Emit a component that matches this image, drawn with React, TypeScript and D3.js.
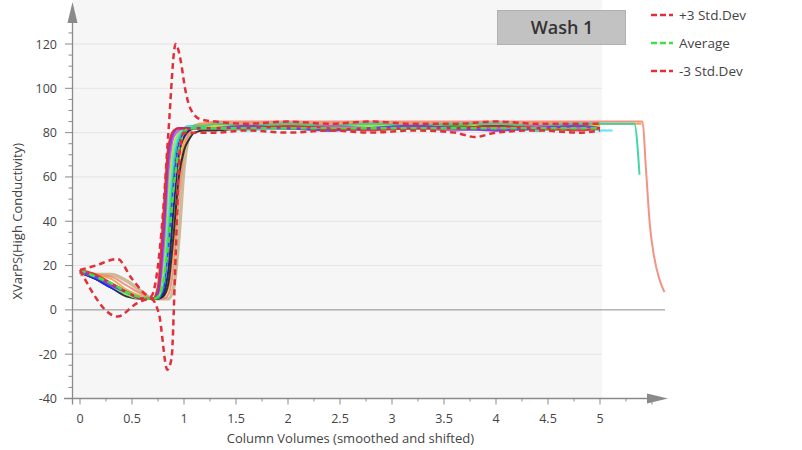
import React from "react";
import * as d3 from "d3";

// ---------- DATA ----------
const xs = [0, 0.15, 0.3, 0.45, 0.6, 0.7, 0.75, 0.8, 0.85, 0.9, 0.95, 1.0, 1.05, 1.1, 1.2, 1.3, 1.6, 2.0, 2.4, 2.8, 3.2, 3.6, 4.0, 4.4, 4.8, 5.0];

const runRed = [18, 16, 12, 8, 5, 5, 11, 42, 74, 81, 82, 82, 82, 82, 82, 82, 82, 83, 82, 81, 82, 82, 83, 82, 81, 82];
const runPurple = [17, 15, 11, 8, 5, 5, 8, 33, 70, 80, 82, 82, 82, 82, 82, 82, 83, 82, 81, 82, 83, 82, 81, 82, 83, 82];
const runMagenta = [17, 15, 12, 8, 5, 5, 7, 25, 62, 78, 81, 82, 82, 82, 82, 82, 82, 82, 83, 82, 82, 81, 82, 83, 82, 82];
const runLime = [17, 15, 11, 7, 5, 5, 6, 18, 52, 74, 80, 82, 82, 82, 82, 82, 83, 82, 82, 83, 82, 82, 81, 82, 82, 82];
const runCyan = [17, 15, 11, 7, 5, 5, 6, 14, 44, 70, 79, 82, 83, 82, 82, 82, 81, 82, 81, 82, 82, 81, 82, 81, 82, 81];
const runTeal = [17, 15, 12, 8, 5, 5, 6, 13, 40, 68, 78, 82, 83, 83, 83, 84, 83, 84, 83, 84, 83, 84, 84, 83, 84, 84];
const runGreen = [17, 15, 12, 8, 5, 5, 5, 12, 38, 66, 78, 81, 82, 82, 82, 82, 82, 82, 82, 82, 82, 83, 82, 82, 82, 82];
const runBlue = [17, 14, 10, 7, 5, 5, 5, 9, 28, 58, 75, 80, 82, 82, 82, 82, 82, 82, 83, 82, 82, 82, 82, 82, 82, 82];
const runNavy = [17, 14, 10, 7, 5, 5, 5, 7, 18, 46, 70, 78, 81, 82, 82, 82, 82, 82, 82, 82, 82, 82, 83, 82, 82, 82];
const runBlack = [17, 14, 10, 6, 5, 5, 5, 6, 12, 34, 60, 72, 77, 80, 81, 81, 82, 82, 81, 82, 82, 82, 82, 81, 82, 82];
const runYellow = [17, 15, 12, 8, 5, 5, 5, 7, 16, 42, 68, 78, 81, 82, 83, 83, 83, 83, 83, 83, 83, 83, 83, 83, 83, 83];
const runOrange = [17, 16, 14, 9, 6, 5, 5, 6, 10, 28, 58, 76, 81, 83, 84, 84, 84, 84, 84, 84, 84, 84, 84, 84, 84, 84];
const runSalmon = [17, 16, 15, 11, 7, 5, 5, 5, 7, 20, 50, 72, 80, 83, 84, 85, 85, 85, 85, 85, 85, 85, 85, 85, 85, 85];
const runTan = [16, 16, 16, 13, 8, 5, 5, 5, 5, 10, 32, 64, 79, 83, 84, 84, 84, 84, 84, 84, 84, 84, 84, 84, 84, 84];

// tails beyond 5 CV
const cyanTailX = [5.12];
const cyanTailY = [81];
const tealTailX = [5.2, 5.33, 5.38];
const tealTailY = [84, 84, 61];
const orangeTailX = [5.2, 5.4];
const orangeTailY = [84, 84];
const salmonTailX = [5.2, 5.41, 5.44, 5.48, 5.52, 5.57, 5.62];
const salmonTailY = [85, 85, 65, 38, 24, 14, 8];

const avgY = [18, 15, 12, 8, 5.5, 5, 6, 12, 30, 55, 72, 80, 82, 82, 82, 82, 82, 82, 82, 82, 82, 82, 82, 82, 82, 82];

const plusX = [0, 0.15, 0.36, 0.5, 0.68, 0.75, 0.8, 0.85, 0.92, 0.97, 1.01, 1.06, 1.16, 1.3, 1.6, 2.0, 2.4, 2.8, 3.2, 3.6, 4.0, 4.4, 4.8, 5.0];
const plusY = [18, 20, 23, 14, 6, 20, 45, 80, 120, 112, 100, 91, 86, 85, 84, 85, 84, 85, 84, 84, 85, 84, 84, 84];

const minusX = [0, 0.36, 0.55, 0.68, 0.76, 0.84, 0.88, 0.92, 0.96, 1.0, 1.1, 1.3, 1.6, 2.0, 2.4, 2.8, 3.2, 3.6, 3.8, 4.0, 4.4, 4.8, 5.0];
const minusY = [18, -3, 3, 5, -2, -27, -22, 25, 72, 80, 80, 80, 81, 80, 81, 80, 81, 80, 78, 80, 81, 80, 81];

const xTickLabels = ["0", "0.5", "1", "1.5", "2", "2.5", "3", "3.5", "4", "4.5", "5"];
const yTicks = [-40, -20, 0, 20, 40, 60, 80, 100, 120];
const legendLabels = ["+3 Std.Dev", "Average", "-3 Std.Dev"];

const runs = [
  { y: runTan, tx: [] as number[], ty: [] as number[], color: "#c9b48e", w: 3.5 },
  { y: runSalmon, tx: salmonTailX, ty: salmonTailY, color: "#f08878", w: 2 },
  { y: runOrange, tx: orangeTailX, ty: orangeTailY, color: "#f5a040", w: 2 },
  { y: runYellow, tx: [], ty: [], color: "#e8c820", w: 2 },
  { y: runBlack, tx: [], ty: [], color: "#202020", w: 2 },
  { y: runNavy, tx: [], ty: [], color: "#101080", w: 2 },
  { y: runBlue, tx: [], ty: [], color: "#2030f0", w: 2 },
  { y: runGreen, tx: [], ty: [], color: "#30a040", w: 2 },
  { y: runTeal, tx: tealTailX, ty: tealTailY, color: "#30d0a0", w: 2 },
  { y: runCyan, tx: cyanTailX, ty: cyanTailY, color: "#50e0f0", w: 2 },
  { y: runLime, tx: [], ty: [], color: "#90f040", w: 2 },
  { y: runMagenta, tx: [], ty: [], color: "#d050d0", w: 2 },
  { y: runPurple, tx: [], ty: [], color: "#8030e0", w: 2.5 },
  { y: runRed, tx: [], ty: [], color: "#e02828", w: 2 },
];

export default function App() {
  const W = 802, H = 450;
  const x = d3.scaleLinear().domain([0, 5]).range([80, 600]);
  const y = d3.scaleLinear().domain([-40, 120]).range([398.5, 44]);
  const line = d3
    .line<[number, number]>()
    .x((d) => x(d[0]))
    .y((d) => y(d[1]))
    .curve(d3.curveMonotoneX);

  const font = "'Open Sans', 'Noto Sans', sans-serif";
  const axisColor = "#8a8a8a";
  const textColor = "#444";

  const xMinor = d3.range(0, 5.51, 0.25);
  const yMinor = d3.range(-40, 126, 5);

  const plotLeft = 73, plotRight = 602, plotBottom = y(-40);

  return (
    <svg width={W} height={H} style={{ position: "absolute", left: 0, top: 0, background: "#fff" }} fontFamily={font}>
      {/* plot background */}
      <rect x={plotLeft} y={0} width={plotRight - plotLeft} height={plotBottom} fill="#f6f6f6" />
      {/* grid */}
      {yTicks.filter((t) => t !== -40 && t !== 0).map((t) => (
        <line key={t} x1={plotLeft} x2={plotRight} y1={y(t)} y2={y(t)} stroke="#e4e4e4" strokeWidth={1} />
      ))}
      <line x1={plotLeft} x2={665} y1={y(0)} y2={y(0)} stroke="#8c8c8c" strokeWidth={1} />

      {/* run lines */}
      {runs.map((r, i) => {
        const pts: [number, number][] = xs.map((xv, j) => [xv, r.y[j]] as [number, number]);
        r.tx.forEach((xv, j) => pts.push([xv, r.ty[j]]));
        return <path key={i} d={line(pts) || ""} fill="none" stroke={r.color} strokeWidth={r.w} strokeOpacity={0.9} />;
      })}

      {/* average */}
      <path d={line(xs.map((xv, j) => [xv, avgY[j]] as [number, number])) || ""} fill="none" stroke="#40e040" strokeWidth={2.5} strokeDasharray="6,4" />
      {/* std dev */}
      <path d={line(plusX.map((xv, j) => [xv, plusY[j]] as [number, number])) || ""} fill="none" stroke="#e0303c" strokeWidth={2.5} strokeDasharray="6,4" />
      <path d={line(minusX.map((xv, j) => [xv, minusY[j]] as [number, number])) || ""} fill="none" stroke="#e0303c" strokeWidth={2.5} strokeDasharray="6,4" />

      {/* x axis */}
      <line x1={64} x2={650} y1={plotBottom} y2={plotBottom} stroke={axisColor} strokeWidth={1.3} />
      <path d={`M647,${plotBottom - 5} L668,${plotBottom} L647,${plotBottom + 5} Z`} fill={axisColor} />
      {xMinor.map((t) => (
        <line key={t} x1={x(t)} x2={x(t)} y1={plotBottom} y2={plotBottom + (Math.abs(t * 2 - Math.round(t * 2)) < 1e-6 ? 6 : 3)} stroke={axisColor} strokeWidth={1} />
      ))}
      {xTickLabels.map((lab, i) => (
        <text key={lab} x={x(i * 0.5)} y={plotBottom + 24} textAnchor="middle" fontSize={12.5} fill={textColor}>{lab}</text>
      ))}
      <text x={x(2.6)} y={443} textAnchor="middle" fontSize={13} fill={textColor}>Column Volumes (smoothed and shifted)</text>

      {/* y axis */}
      <line x1={72.5} x2={72.5} y1={plotBottom + 6} y2={20} stroke={axisColor} strokeWidth={1.3} />
      <path d={`M67.5,23 L72.5,2 L77.5,23 Z`} fill={axisColor} />
      {yMinor.map((t) => (
        <line key={t} x1={t % 20 === 0 ? 65 : 68.5} x2={72.5} y1={y(t)} y2={y(t)} stroke={axisColor} strokeWidth={1} />
      ))}
      {yTicks.map((t) => (
        <text key={t} x={57} y={y(t) + 4.5} textAnchor="end" fontSize={12.5} fill={textColor}>{t}</text>
      ))}
      <text transform={`translate(22,${y(40)}) rotate(-90)`} textAnchor="middle" fontSize={13} fill={textColor}>XVarPS(High Conductivity)</text>

      {/* Wash 1 box */}
      <rect x={497.5} y={10.5} width={128} height={34} fill="#c2c2c2" stroke="#b0b0b0" />
      <text x={562} y={34} textAnchor="middle" fontSize={18} fontWeight={600} fill="#333">Wash 1</text>

      {/* legend */}
      {legendLabels.map((lab, i) => {
        const ly = 15 + i * 28;
        const c = i === 1 ? "#40e040" : "#e0303c";
        return (
          <g key={lab}>
            <line x1={651} x2={673} y1={ly} y2={ly} stroke={c} strokeWidth={2.5} strokeDasharray="6,3" />
            <text x={679} y={ly + 5} fontSize={13.5} fill={textColor}>{lab}</text>
          </g>
        );
      })}
    </svg>
  );
}
